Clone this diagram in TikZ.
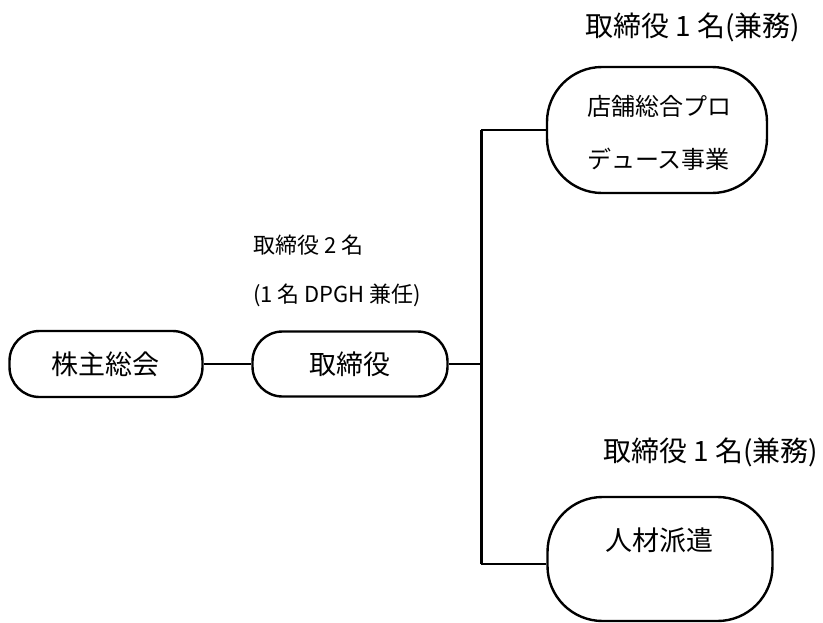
\documentclass[tikz,border=0pt]{standalone}
\usepackage{fontspec}
\setmainfont{Noto Sans CJK JP}
\begin{document}
\begin{tikzpicture}[x=1pt,y=-1pt,
  box/.style={draw, line width=2.4pt, inner sep=0pt},
  conn/.style={line width=2.4pt},
  lbl/.style={inner sep=0pt, font=\fontsize{22}{26}\selectfont},
  boxtext/.style={inner sep=0pt, font=\fontsize{27}{32}\selectfont}]
\useasboundingbox (0,0) rectangle (823,622);
\node[box, minimum width=193pt, minimum height=66pt, rounded corners=30pt, font=\fontsize{27}{32}\selectfont] (share) at (106,364) {株主総会};
\node[box, minimum width=195pt, minimum height=65pt, rounded corners=30pt, font=\fontsize{27}{32}\selectfont] (board) at (350,364) {取締役};
\node[box, minimum width=220pt, minimum height=126pt, rounded corners=55pt] (store) at (657,130) {};
\node[box, minimum width=225pt, minimum height=124pt, rounded corners=55pt] (staff) at (660,559) {};
\node[boxtext, align=left, font=\fontsize{24}{53}\selectfont] (storetxt) at (659,133) {店舗総合プロ\\デュース事業};
\node[boxtext] (stafftxt) at (659,540) {人材派遣};
\coordinate (jt) at (481,130);
\coordinate (jb) at (481,564);
\draw[conn] (share.east) -- (board.west);
\draw[conn] (board.east) -- (board.east -| jt);
\draw[conn, line width=3pt] (jt) -- (jb);
\draw[conn] (jt) -- (store.west |- jt);
\draw[conn] (jb) -- (staff.west |- jb);
\node[lbl, anchor=west] (l2a) at (253,245) {取締役 2 名};
\node[lbl, anchor=west] (l2b) at (253,295) {(1 名 DPGH 兼任)};
\node[lbl, anchor=west, font=\fontsize{28}{32}\selectfont] (l1a) at (585,27) {取締役 1 名(兼務)};
\node[lbl, anchor=west, font=\fontsize{28}{32}\selectfont] (l1b) at (603,452) {取締役 1 名(兼務)};
\end{tikzpicture}
\end{document}
